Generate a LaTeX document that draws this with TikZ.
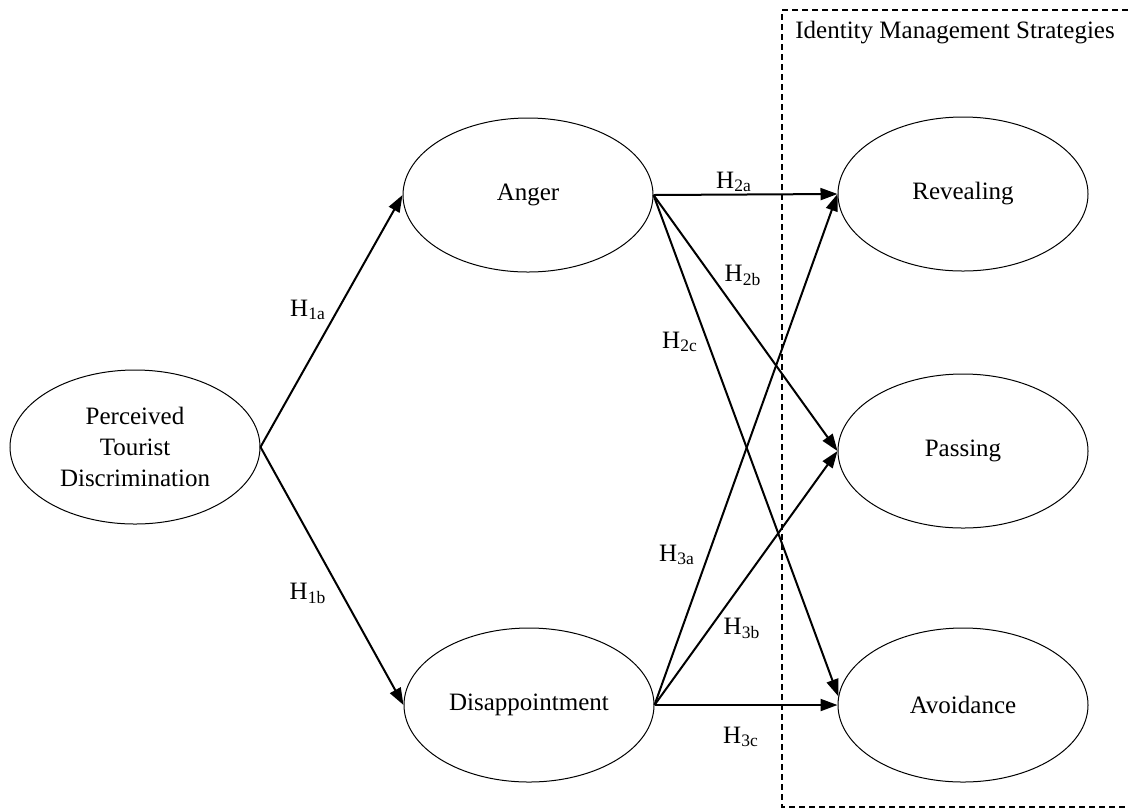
\documentclass[tikz,border=0pt]{standalone}
\usepackage{fontspec}
\setmainfont{Liberation Serif}
\usepackage{tikz}
\usetikzlibrary{shapes}
\usetikzlibrary{arrows.meta}

\begin{document}
\begin{tikzpicture}[x=0.5pt, y=-0.5pt,
		latent/.style={ellipse, draw, line width=0.5pt, minimum width=125pt, minimum height=77pt, inner sep=0pt, align=center, font=\fontsize{12.5}{15.5}\selectfont},
		hyp/.style={line width=1pt, -{Triangle[length=8.5pt,width=6pt]}},
		hlab/.style={inner sep=0pt, font=\fontsize{12.5}{15}\selectfont},
		groupbox/.style={line width=0.7pt, dash pattern=on 3pt off 2pt}]
				\useasboundingbox (0,0) rectangle (1128,810);
				
				% strategies group
				\draw[groupbox] (1128,10) -- (782,10) -- (782,807) -- (1128,807);
				\node[hlab, anchor=west] (title) at (795,33) {Identity Management Strategies};
				
				\node[latent] (ptd) at (135,447) {Perceived\\Tourist\\Discrimination};
				\node[latent] (anger) at (528,195) {Anger};
				\node[latent] (disap) at (529,705) {Disappointment};
				\node[latent] (reveal) at (963,194) {Revealing};
				\node[latent] (pass) at (963,451) {Passing};
				\node[latent] (avoid) at (963,705) {Avoidance};
				
				\draw[hyp] (ptd.east) -- (anger.west);
				\draw[hyp] (ptd.east) -- (disap.west);
				\draw[hyp] (anger.east) -- (reveal.west);
				\draw[hyp] (anger.east) -- (pass.west);
				\draw[hyp] (anger.east) -- (avoid.176);
				\draw[hyp] (disap.east) -- (reveal.west);
				\draw[hyp] (disap.east) -- (pass.west);
				\draw[hyp] (disap.east) -- (avoid.west);
				
				\node[hlab] (h1a) at (308,310) {H\textsubscript{1a}};
				\node[hlab] (h1b) at (308,593) {H\textsubscript{1b}};
				\node[hlab] (h2a) at (734,182) {H\textsubscript{2a}};
				\node[hlab] (h2b) at (743,275) {H\textsubscript{2b}};
				\node[hlab] (h2c) at (680,342) {H\textsubscript{2c}};
				\node[hlab] (h3a) at (677,555) {H\textsubscript{3a}};
				\node[hlab] (h3b) at (742,628) {H\textsubscript{3b}};
				\node[hlab] (h3c) at (741,737) {H\textsubscript{3c}};
			\end{tikzpicture}
\end{document}
